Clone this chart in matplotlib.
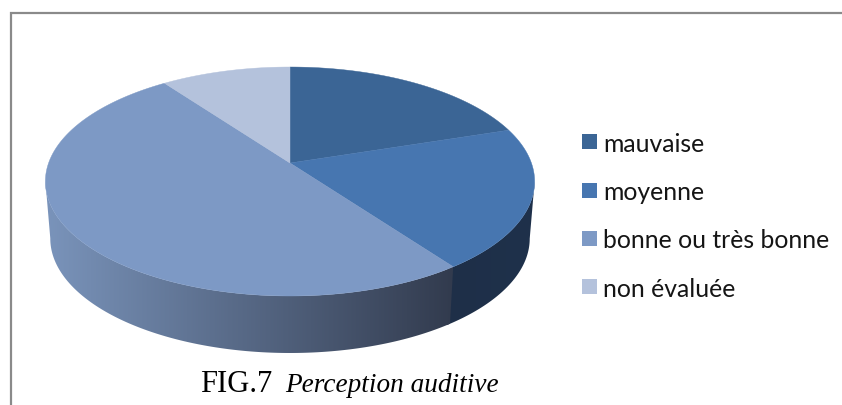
import numpy as np
import matplotlib
matplotlib.use("Agg")
import matplotlib.pyplot as plt
from matplotlib.patches import Polygon, Rectangle

categories = ["mauvaise", "moyenne", "bonne ou très bonne", "non évaluée"]
values = [20, 20, 50, 10]
top_colors = ["#3b6595", "#4776b0", "#7d99c5", "#b4c2dc"]
caption_regular = "FIG.7"
caption_italic = "Perception auditive"

fig = plt.figure(figsize=(8.42, 4.06), dpi=100, facecolor="white")
ax = fig.add_axes([0, 0, 1, 1])
ax.axis("off")

# Perspective projection of the pie's top disc into image pixels
CX, CY, A, B, K, DEPTH, SHRINK = 290, 164, 111.5, 241.4, 0.1616, 57, 0.98


def project(theta):
    """theta is the clockwise angle from 12 o'clock, radians"""
    x, y = np.sin(theta), np.cos(theta)
    w = 1 + K * y
    return CX + B * x / w, CY - A * y / w


fractions = np.array(values, dtype=float) / np.sum(values)
edges = 2 * np.pi * np.concatenate([[0], np.cumsum(fractions)])

# Side wall: gradient images clipped by the visible wall polygons
side_ramps = [
    None,
    ("#1e2f48", "#1f314b"),
    ("#323b4e", "#7a94bb"),
    None,
]
for i, ramp in enumerate(side_ramps):
    if ramp is None:
        continue
    start = edges[i]
    stop = edges[i + 1] + (0.03 if i == 1 else 0)
    t = np.linspace(start, stop, 400)
    px, py = project(t)
    if i == 1:
        keep = t >= t[np.argmax(px)]
    else:
        keep = t <= t[np.argmin(px)]
    px, py = px[keep], py[keep]
    bx = CX + (px - CX) * SHRINK
    poly = np.concatenate([np.c_[px, py], np.c_[bx[::-1], py[::-1] + DEPTH]])
    patch = Polygon(poly, closed=True, fc="none", ec="none")
    ax.add_patch(patch)
    cmap = matplotlib.colors.LinearSegmentedColormap.from_list("r", [ramp[1], ramp[0]])
    x0, x1 = px.min(), px.max()
    grad = np.linspace(0, 1, 256).reshape(1, -1)
    if i == 1:
        grad = grad[:, ::-1]
    im = ax.imshow(grad, cmap=cmap, extent=[x0, x1, 406, 0], aspect="auto", zorder=1 + i * 0.1)
    im.set_clip_path(patch)

# Top disc
for i, color in enumerate(top_colors):
    t = np.linspace(edges[i], edges[i + 1], 300)
    px, py = project(t)
    ax.fill(np.r_[CX, px], np.r_[CY, py], fc=color, ec=color, lw=0.3, zorder=2)

# Frame
ax.plot([10.5, 10.5, 842], [406, 13.5, 13.5], color="#8a8a8a", lw=1.6, zorder=3, solid_joinstyle="miter")

# Legend
legend_y = [142.5, 191, 239, 287.5]
for name, color, y in zip(categories, top_colors, legend_y):
    ax.add_patch(Rectangle((582, y - 7.5), 15, 15, fc=color, ec="none", zorder=3))
    ax.text(603, y, name, family="Lato", fontsize=17.85, color="#151515", va="center_baseline", ha="left", zorder=3)

# Caption
ax.text(200.5, 392, caption_regular, family="Liberation Serif", fontsize=22, color="black", va="baseline", zorder=3)
ax.text(285, 392, caption_italic, family="Liberation Serif", style="italic", fontsize=19.6, color="black", va="baseline", zorder=3)

ax.set_xlim(0, 842)
ax.set_ylim(406, 0)
fig.savefig("out.png", dpi=100, facecolor="white")
